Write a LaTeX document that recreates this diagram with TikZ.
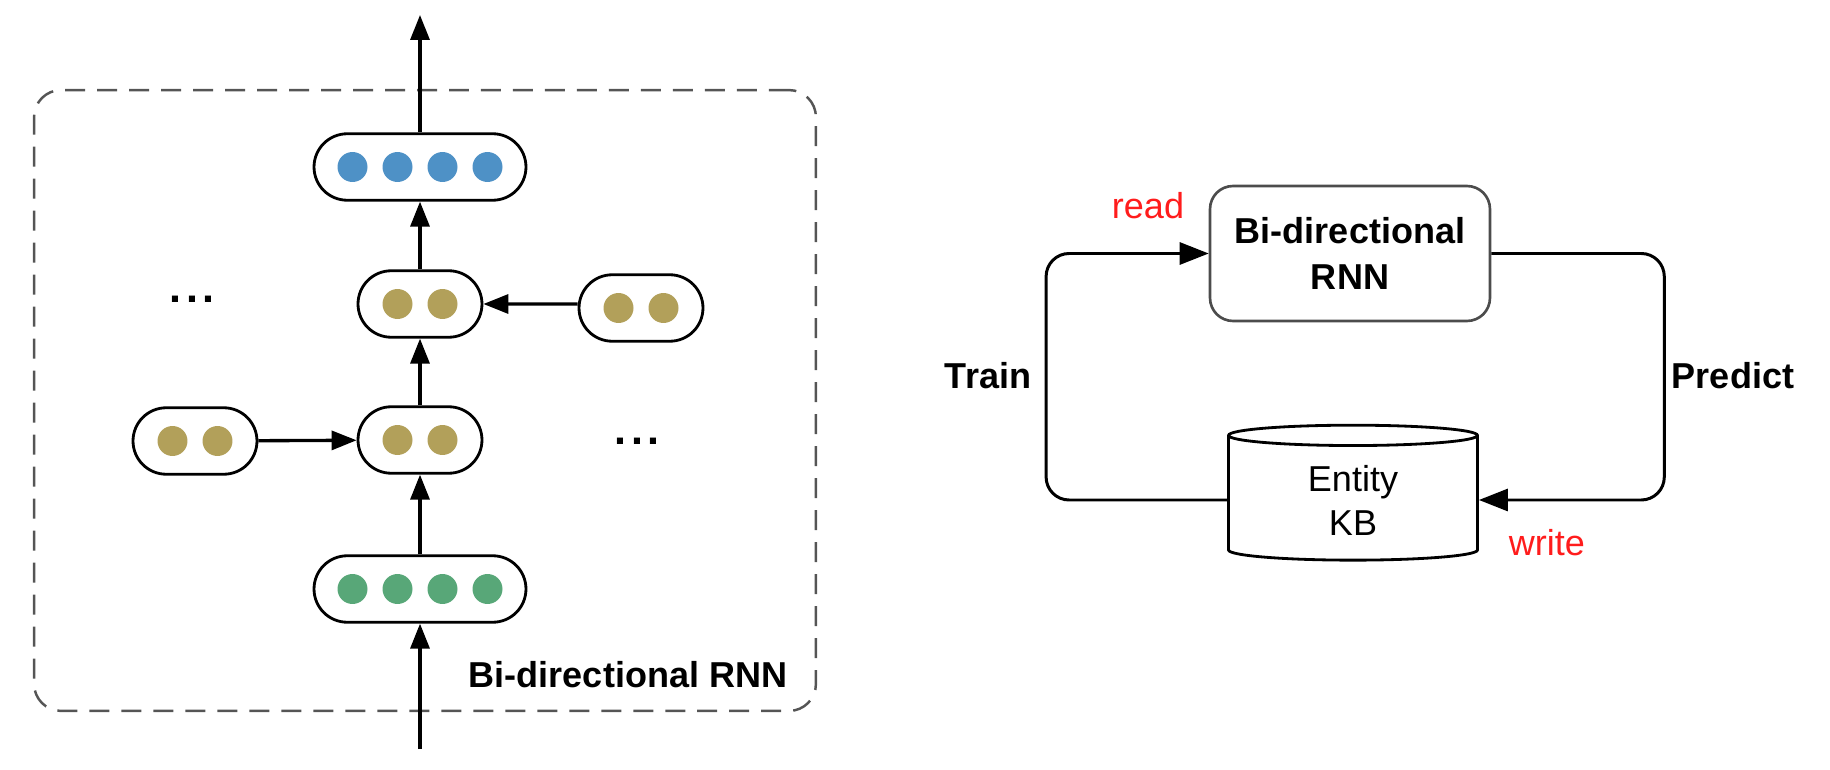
\documentclass[tikz,border=0pt]{standalone}
\usepackage{fontspec}
\setmainfont{Liberation Sans}
\usepackage{tikz}
\usetikzlibrary{shapes,arrows.meta,positioning,calc}
\definecolor{outcolor}{RGB}{78, 145, 198}
\definecolor{hidcolor}{RGB}{178, 160, 90}
\definecolor{incolor}{RGB}{88, 167, 120}
\definecolor{framecolor}{RGB}{85, 85, 85}
\definecolor{labelred}{RGB}{255, 28, 28}

\begin{document}
\begin{tikzpicture}[
    x=0.02cm, y=-0.02cm,
    wnode/.style={rounded rectangle, draw, line width=1.6pt, minimum width=4.24cm, minimum height=1.33cm, inner sep=0pt},
    hnode/.style={rounded rectangle, draw, line width=1.6pt, minimum width=2.48cm, minimum height=1.33cm, inner sep=0pt},
    unit/.style={circle, inner sep=0pt, minimum size=0.6cm},
    edge/.style={-{Triangle[length=0.5cm, width=0.38cm]}, line width=1.9pt},
    loopedge/.style={-{Triangle[length=0.58cm, width=0.44cm]}, line width=1.7pt, rounded corners=0.46cm},
    blab/.style={font=\fontsize{20.5}{25}\selectfont\bfseries},
    rlab/.style={font=\fontsize{20.5}{25}\selectfont, text=labelred},
    ellip/.style={font=\fontsize{24.5}{25}\selectfont\bfseries},
    rnnbox/.style={draw=black!70, line width=1.5pt, rounded corners=0.46cm, minimum width=5.6cm, minimum height=2.7cm, align=center, font=\fontsize{20.5}{26.6}\selectfont\bfseries},
    kbnode/.style={cylinder, shape border rotate=90, draw, line width=1.6pt, aspect=0.2, minimum width=4.98cm, minimum height=2.7cm, align=center, font=\fontsize{20.5}{25}\selectfont}
]
    \useasboundingbox (0,0) rectangle (1830,770);

    % Dashed frame
    \node[draw=framecolor, line width=1.4pt, dash pattern=on 0.4cm off 0.24cm, rounded corners=0.54cm, minimum width=15.64cm, minimum height=12.42cm] (frame) at (425,400.5) {};
    \node[blab] (framelab) at (628,675) {Bi-directional RNN};

    % Layers
    \node[wnode] (out) at (420,167) {};
    \node[hnode] (h2) at (420,304) {};
    \node[hnode] (hr) at (641,308) {};
    \node[hnode] (h1) at (420,440) {};
    \node[hnode] (hl) at (195,441) {};
    \node[wnode] (in) at (420,589) {};

    % Units
    \foreach \k in {1,...,4} {
        \node[unit, fill=outcolor] (o\k) at ($(out)+(\k*45-112.5,0)$) {};
        \node[unit, fill=incolor] (i\k) at ($(in)+(\k*45-112.5,0)$) {};
    }
    \foreach \n in {h2,hr,h1,hl} {
        \foreach \k in {1,2} {
            \node[unit, fill=hidcolor] (\n u\k) at ($(\n)+(\k*45-67.5,0)$) {};
        }
    }

    \node[ellip] (ldots) at (192,299) {.\hspace{0.1cm}.\hspace{0.1cm}.};
    \node[ellip] (rdots) at (637,441) {.\hspace{0.1cm}.\hspace{0.1cm}.};

    % Edges
    \coordinate (top) at (420,15);
    \coordinate (bot) at (420,749);
    \draw[edge] (bot) -- (in);
    \draw[edge] (in) -- (h1);
    \draw[edge] (h1) -- (h2);
    \draw[edge] (h2) -- (out);
    \draw[edge] (out) -- (top);
    \draw[edge] (hl) -- (h1);
    \draw[edge] (hr.west |- h2) -- (h2);

    % Train / predict loop
    \node[rnnbox] (rnn) at (1350,253.5) {Bi-directional\\RNN};
    \node[kbnode] (kb) at (1353,500) {Entity\\KB};

    \draw[loopedge] (kb.west) -- ++(-181,0) |- (rnn.west);
    \draw[loopedge] (rnn.east) -- ++(173,0) |- (kb.east);

    \node[blab] (train) at (988,376) {Train};
    \node[blab] (predict) at (1733,376) {Predict};
    \node[rlab] (read) at (1148,206) {read};
    \node[rlab] (write) at (1547,543) {write};
\end{tikzpicture}
\end{document}
